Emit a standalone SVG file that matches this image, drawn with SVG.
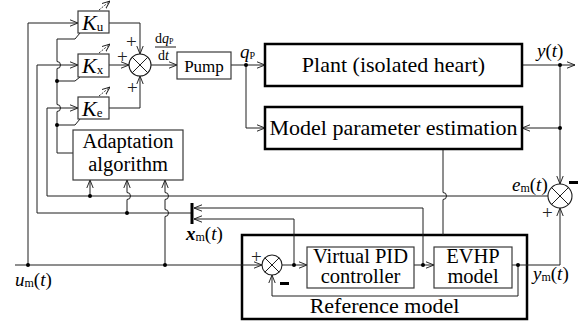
<svg xmlns="http://www.w3.org/2000/svg" width="585" height="328" viewBox="0 0 585 328">
  <style>
    .ln { fill: none; stroke: #1e1e1e; stroke-width: 1; }
    .ar { marker-end: url(#ah); }
    .bx { fill: #fff; stroke: #3a3a3a; stroke-width: 1.2; }
    .bb { fill: #fff; stroke: #000; stroke-width: 2.5; }
    .frame { fill: none; stroke: #000; stroke-width: 2.5; }
    .sj { fill: #fff; stroke: #1e1e1e; stroke-width: 1.1; }
    .dot { fill: #000; }
    .t { font-family: "Liberation Serif", "Times New Roman", serif; fill: #000; }
    .i { font-style: italic; }
    .lab { font-size: 22px; text-anchor: middle; }
    .lab2 { font-size: 20.5px; text-anchor: middle; }
    .pm { font-family: "Liberation Serif", serif; font-size: 19px; fill: #222; }
    .mn { fill: #000; }
    .dash { fill: none; stroke: #1e1e1e; stroke-width: 0.9; stroke-dasharray: 2 1.4; }
  </style>
  <defs>
    <marker id="ah" viewBox="0 0 10 10" refX="10" refY="5" markerWidth="8" markerHeight="8" markerUnits="userSpaceOnUse" orient="auto">
      <path d="M0,1 L10,5 L0,9" fill="none" stroke="#1e1e1e" stroke-width="1.2"/>
    </marker>
  </defs>

  <!-- reference model frame (drawn under its signal lines) -->
  <g id="reference-model">
    <rect class="frame" x="242" y="235" width="285" height="84"/>
    <text class="t lab" x="384.5" y="313">Reference model</text>
  </g>

  <!-- connectors -->
  <g id="connectors">
    <!-- reference input u_m -->
    <path class="ln ar" d="M15,265 H262"/>
    <path class="ln ar" d="M28,265 V23 H78"/>
    <!-- gain outputs into the summing junction -->
    <path class="ln ar" d="M109,23 H140 V54"/>
    <path class="ln ar" d="M109,65 H129"/>
    <path class="ln ar" d="M109,108 H140 V76"/>
    <path class="ln ar" d="M151,65 H177"/>
    <path class="ln ar" d="M231,65 H265"/>
    <path class="ln ar" d="M246,65 V128 H265"/>
    <!-- plant output -->
    <path class="ln ar" d="M522,65 H575"/>
    <path class="ln ar" d="M560,65 V184"/>
    <path class="ln ar" d="M560,128 H522"/>
    <!-- error e_m back to K_e -->
    <path class="ln ar" d="M548,196 H47 V108 H78"/>
    <!-- state vector x_m to K_x -->
    <path class="ln ar" d="M192,213 H37 V65 H78"/>
    <path class="ln ar" d="M423,265 V208 H194"/>
    <path class="ln ar" d="M294,265 V219 H194"/>
    <line x1="192" y1="203" x2="192" y2="224" stroke="#000" stroke-width="3"/>
    <!-- inputs of the adaptation algorithm -->
    <path class="ln ar" d="M90,196 V180"/>
    <path class="ln ar" d="M127,213 V199.5 A3.5,3.5 0 0 0 127,192.5 V180"/>
    <path class="ln ar" d="M165,265 V216.5 A3.5,3.5 0 0 0 165,209.5 V199.5 A3.5,3.5 0 0 0 165,192.5 V180"/>
    <!-- adaptation bus to the gains -->
    <path class="ln" d="M73,153 H57 V111.5 A3.5,3.5 0 0 0 57,104.5 V68.5 A3.5,3.5 0 0 0 57,61.5 V39 H75 L80,33"/>
    <path class="ln" d="M57,81 H75 L80,77"/>
    <path class="ln" d="M57,125 H75 L80,119"/>
    <path class="dash ar" d="M99,10 L110,1"/>
    <path class="dash ar" d="M99,53 L110,44"/>
    <path class="dash ar" d="M99,96 L110,87"/>
    <!-- estimated parameters into the reference model -->
    <path class="ln" d="M443,149 V192.5 A3.5,3.5 0 0 1 443,199.5 V235"/>
    <!-- inside the reference model -->
    <path class="ln ar" d="M282,265 H307"/>
    <path class="ln ar" d="M414,265 H434"/>
    <path class="ln ar" d="M512,265 H560 V208"/>
    <path class="ln ar" d="M518,265 V296 H272 V275"/>
    <!-- junction dots -->
    <circle class="dot" cx="28" cy="265" r="2"/>
    <circle class="dot" cx="165" cy="265" r="2"/>
    <circle class="dot" cx="246" cy="65" r="2"/>
    <circle class="dot" cx="560" cy="65" r="2"/>
    <circle class="dot" cx="560" cy="128" r="2"/>
    <circle class="dot" cx="90" cy="196" r="2"/>
    <circle class="dot" cx="127" cy="213" r="2"/>
    <circle class="dot" cx="57" cy="81" r="2"/>
    <circle class="dot" cx="57" cy="125" r="2"/>
    <circle class="dot" cx="294" cy="265" r="2"/>
    <circle class="dot" cx="423" cy="265" r="2"/>
    <circle class="dot" cx="518" cy="265" r="2"/>
  </g>

  <!-- gains -->
  <g id="gain-u">
    <rect class="bx" x="78" y="11" width="31" height="22"/>
    <text class="t" x="82" y="30" font-size="22"><tspan class="i">K</tspan><tspan font-size="13" dy="1">u</tspan></text>
  </g>
  <g id="gain-x">
    <rect class="bx" x="78" y="54" width="31" height="23"/>
    <text class="t" x="82" y="73" font-size="22"><tspan class="i">K</tspan><tspan font-size="13" dy="1">x</tspan></text>
  </g>
  <g id="gain-e">
    <rect class="bx" x="78" y="97" width="31" height="22"/>
    <text class="t" x="82" y="116" font-size="22"><tspan class="i">K</tspan><tspan font-size="13" dy="1">e</tspan></text>
  </g>

  <!-- control summing junction -->
  <g id="sum-control">
    <circle class="sj" cx="140" cy="65" r="11"/>
    <path class="ln" d="M132.2,57.2 L147.8,72.8 M147.8,57.2 L132.2,72.8"/>
    <text class="pm" x="126" y="48">+</text>
    <text class="pm" x="117" y="63">+</text>
    <text class="pm" x="127" y="94">+</text>
  </g>

  <g id="rate-label">
    <text class="t" x="155" y="43" font-size="14">d<tspan class="i">q</tspan><tspan font-size="8" dy="1">P</tspan></text>
    <line x1="155" y1="47" x2="176" y2="47" stroke="#000" stroke-width="0.9"/>
    <text class="t" x="158" y="60" font-size="14">d<tspan class="i">t</tspan></text>
  </g>

  <g id="pump">
    <rect class="bx" x="177" y="52" width="54" height="27"/>
    <text class="t" x="204" y="72" font-size="17" text-anchor="middle">Pump</text>
  </g>
  <text class="t" x="240" y="58" font-size="19"><tspan class="i">q</tspan><tspan font-size="10" dy="1">P</tspan></text>

  <g id="plant">
    <rect class="bb" x="265" y="44" width="257" height="42"/>
    <text class="t lab" x="393.5" y="72">Plant (isolated heart)</text>
  </g>
  <text class="t" x="537" y="57" font-size="19"><tspan class="i">y</tspan>(<tspan class="i">t</tspan>)</text>

  <g id="estimation">
    <rect class="bb" x="265" y="107" width="257" height="42"/>
    <text class="t lab" x="393.5" y="135">Model parameter estimation</text>
  </g>

  <g id="sum-error">
    <circle class="sj" cx="560" cy="196" r="12"/>
    <path class="ln" d="M551.5,187.5 L568.5,204.5 M568.5,187.5 L551.5,204.5"/>
    <rect class="mn" x="569" y="181" width="9" height="3"/>
    <text class="pm" x="542" y="219">+</text>
  </g>
  <text class="t" x="512" y="191" font-size="19"><tspan class="i">e</tspan><tspan font-size="12" dy="1">m</tspan><tspan dy="-1">(</tspan><tspan class="i">t</tspan>)</text>

  <g id="adaptation">
    <rect class="bx" x="73" y="130" width="110" height="50"/>
    <text class="t" x="128" y="148" font-size="20.5" text-anchor="middle">Adaptation</text>
    <text class="t" x="128" y="171" font-size="20.5" text-anchor="middle">algorithm</text>
  </g>

  <text class="t" x="186" y="240" font-size="19"><tspan class="i" font-weight="bold">x</tspan><tspan font-size="12" dy="1">m</tspan><tspan dy="-1">(</tspan><tspan class="i">t</tspan>)</text>
  <text class="t" x="15" y="286" font-size="19"><tspan class="i">u</tspan><tspan font-size="12" dy="1">m</tspan><tspan dy="-1">(</tspan><tspan class="i">t</tspan>)</text>

  <g id="sum-reference">
    <circle class="sj" cx="272" cy="265" r="10"/>
    <path class="ln" d="M264.9,257.9 L279.1,272.1 M279.1,257.9 L264.9,272.1"/>
    <text class="pm" x="251" y="263">+</text>
    <rect class="mn" x="280" y="282" width="9" height="3"/>
  </g>

  <g id="pid">
    <rect class="bx" x="307" y="247" width="107" height="41"/>
    <text class="t lab2" x="360.5" y="263">Virtual PID</text>
    <text class="t lab2" x="360.5" y="283">controller</text>
  </g>

  <g id="evhp">
    <rect class="bx" x="434" y="247" width="78" height="41"/>
    <text class="t lab2" x="473" y="263">EVHP</text>
    <text class="t lab2" x="473" y="283">model</text>
  </g>
  <text class="t" x="533" y="280" font-size="19"><tspan class="i">y</tspan><tspan font-size="12" dy="1">m</tspan><tspan dy="-1">(</tspan><tspan class="i">t</tspan>)</text>
</svg>
